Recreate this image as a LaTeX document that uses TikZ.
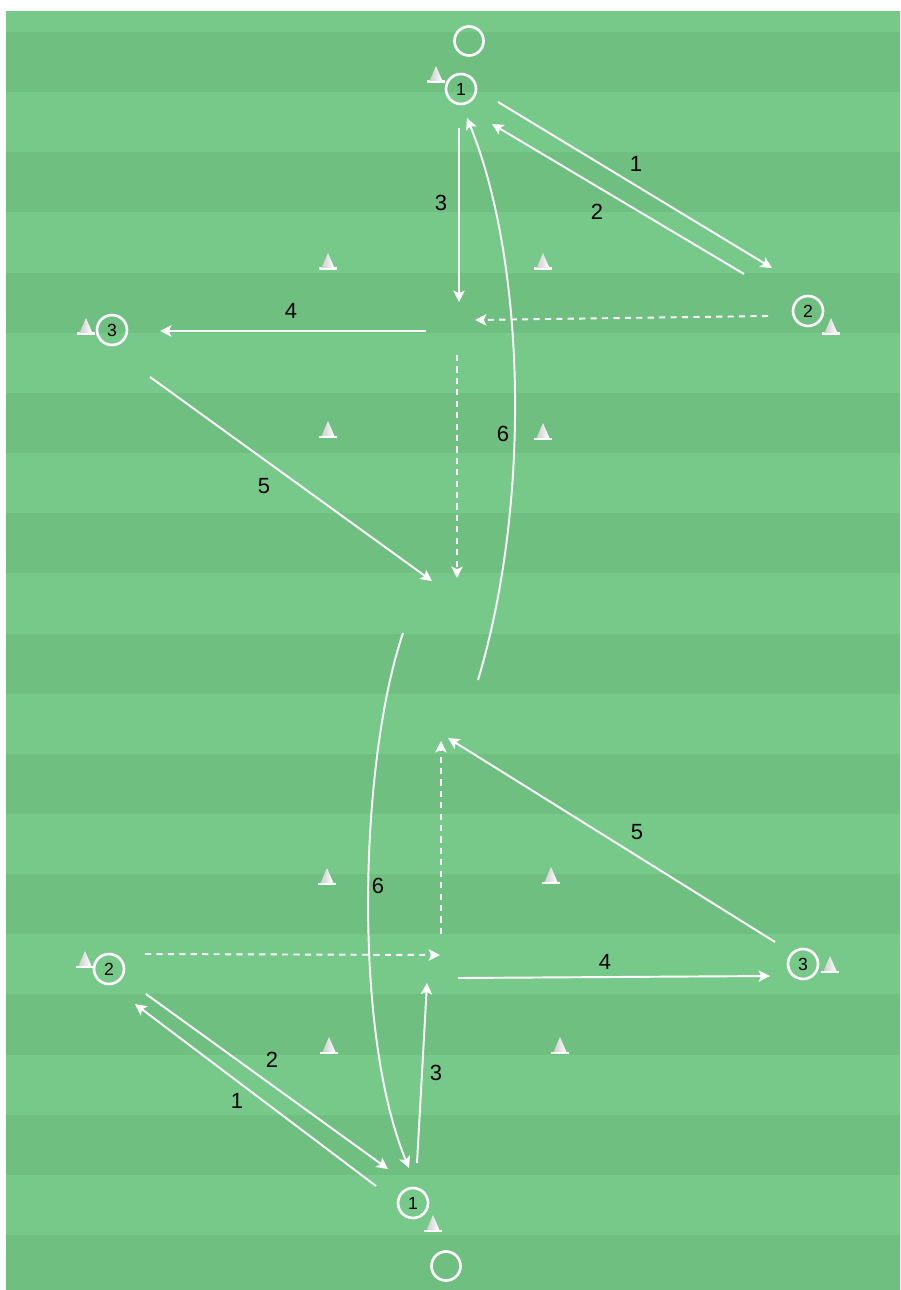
\documentclass[tikz,border=0pt]{standalone}
\usepackage{fontspec}
\setmainfont{Liberation Sans}
\usetikzlibrary{arrows.meta,positioning}
\definecolor{pitchlight}{RGB}{118,201,137}
\definecolor{pitchdark}{RGB}{110,191,128}
\definecolor{conegray}{RGB}{205,205,205}

\begin{document}
\begin{tikzpicture}[x=0.02cm,y=-0.02cm,
  player/.style={circle,draw=white,line width=1.5pt,minimum size=0.6cm,
                 inner sep=0pt,font=\fontsize{10}{12}\selectfont},
  ball/.style={circle,draw=white,line width=1.5pt,minimum size=0.58cm,inner sep=0pt},
  pass/.style={draw=white,line width=1.1pt,-{Stealth[length=6.5pt,width=6.5pt,inset=1.5pt]}},
  run/.style={pass,dash pattern=on 3.5pt off 3pt},
  num/.style={font=\fontsize{12.5}{15}\selectfont,inner sep=0pt},
  cone/.pic={
    \fill[white] (-9,0) rectangle (9,-2.5);
    \shade[left color=conegray,right color=white] (-6.5,-2) -- (0,-17) -- (6.5,-2) -- cycle;
  }]

  \useasboundingbox (0,0) rectangle (900,1290);

  % pitch with stripes
  \fill[pitchlight] (6,11) rectangle (900,1290);
  \begin{scope}
    \clip (6,11) rectangle (900,1290);
    \foreach \i in {0,...,10}{
      \fill[pitchdark] (6,{32+120.3*\i}) rectangle (900,{92.15+120.3*\i});
    }
  \end{scope}

  % cones
  \foreach \x/\y in {436/83, 86/335, 831/335, 328/270, 543/270, 328/438, 543/440,
                     85/968, 830/973, 433/1232, 327/885, 551/884, 329/1054, 560/1054}{
    \pic at (\x,\y) {cone};
  }

  % players and balls
  \node[ball] (bt) at (469,41) {};
  \node[player] (p1t) at (461,89) {1};
  \node[player] (p2t) at (808,311) {2};
  \node[player] (p3t) at (112,330) {3};
  \node[player] (p1b) at (413,1203) {1};
  \node[player] (p2b) at (109,969) {2};
  \node[player] (p3b) at (803,964) {3};
  \node[ball] (bb) at (446,1266) {};

  % top half
  \coordinate (a1s) at (498,102);  \coordinate (a1e) at (772,268);
  \coordinate (a2s) at (744,274);  \coordinate (a2e) at (492,124);
  \coordinate (a3s) at (459,128);  \coordinate (a3e) at (459,302);
  \coordinate (d1s) at (768,316);  \coordinate (d1e) at (475,320);
  \coordinate (a4s) at (426,331);  \coordinate (a4e) at (160,331);
  \coordinate (a5s) at (150,377);  \coordinate (a5e) at (432,581);
  \coordinate (d2s) at (457,355);  \coordinate (d2e) at (457,578);
  \coordinate (c6s) at (478,680);  \coordinate (c6e) at (467,118);

  \draw[pass] (a1s) -- (a1e);
  \draw[pass] (a2s) -- (a2e);
  \draw[pass] (a3s) -- (a3e);
  \draw[run]  (d1s) -- (d1e);
  \draw[pass] (a4s) -- (a4e);
  \draw[pass] (a5s) -- (a5e);
  \draw[run]  (d2s) -- (d2e);
  \draw[pass] (c6s) .. controls (532,500) and (525,260) .. (c6e);

  % bottom half
  \coordinate (b1s) at (376,1186); \coordinate (b1e) at (135,1004);
  \coordinate (b2s) at (146,994);  \coordinate (b2e) at (388,1169);
  \coordinate (b3s) at (417,1163); \coordinate (b3e) at (427,983);
  \coordinate (e1s) at (145,954);  \coordinate (e1e) at (440,955);
  \coordinate (b4s) at (458,978);  \coordinate (b4e) at (770,976);
  \coordinate (b5s) at (775,942);  \coordinate (b5e) at (448,738);
  \coordinate (e2s) at (441,934);  \coordinate (e2e) at (441,741);
  \coordinate (b6s) at (403,633);  \coordinate (b6e) at (409,1168);

  \draw[pass] (b1s) -- (b1e);
  \draw[pass] (b2s) -- (b2e);
  \draw[pass] (b3s) -- (b3e);
  \draw[run]  (e1s) -- (e1e);
  \draw[pass] (b4s) -- (b4e);
  \draw[pass] (b5s) -- (b5e);
  \draw[run]  (e2s) -- (e2e);
  \draw[pass] (b6s) .. controls (360,760) and (352,1030) .. (b6e);

  % numbers
  \foreach \x/\y/\lbl in {636/164/1, 597/212/2, 441/203/3, 291/311/4, 264/486/5, 503/434/6,
                          237/1101/1, 272/1060/2, 436/1073/3, 605/962/4, 637/832/5, 378/886/6}{
    \node[num] at (\x,\y) {\lbl};
  }
\end{tikzpicture}
\end{document}
